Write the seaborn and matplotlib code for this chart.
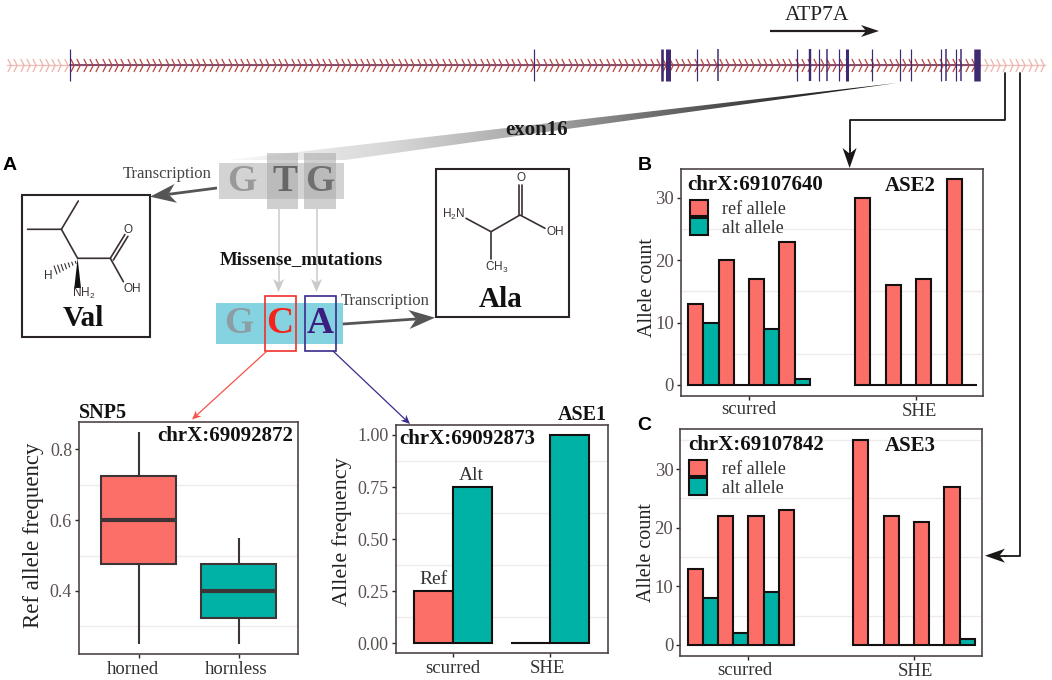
import numpy as np
import pandas as pd
import matplotlib
matplotlib.use("Agg")
from matplotlib import pyplot as plt
from matplotlib.colors import LinearSegmentedColormap
from matplotlib.patches import Patch, Polygon, Rectangle
from matplotlib.path import Path
from matplotlib.transforms import ScaledTranslation
import seaborn as sns

# values
horned = [0.25, 0.475, 0.6, 0.725, 0.85]
hornless = [0.25, 0.325, 0.4, 0.475, 0.55]
ase1_groups = ["scurred", "scurred", "SHE", "SHE"]
ase1_alleles = ["Ref", "Alt", "Ref", "Alt"]
ase1_freq = [0.25, 0.75, 0.0, 1.0]
bar_groups = ["scurred"] * 8 + ["SHE"] * 8
bar_ids = ["r1", "a1", "r2", "a2", "r3", "a3", "r4", "a4"] * 2
ase2_counts = [13, 10, 20, 0, 17, 9, 23, 1, 30, 0, 16, 0, 17, 0, 33, 0]
ase3_counts = [13, 8, 22, 2, 22, 9, 23, np.nan, 35, 0, 22, 0, 21, 0, 27, 1]
exon_x = [70, 534, 661.7, 668, 696.7, 717.7, 797, 810, 818.7, 827, 839, 846.7,
          871.7, 900, 910.7, 940.7, 945.7, 955.7, 961, 977]
exon_w = [1.2, 1.2, 2.6, 5, 1.2, 1.5, 1.2, 2.4, 1.2, 1.5, 1.2, 3, 1.2, 1.2, 1.2, 1.2, 1.5, 1.2, 1.5, 6.5]

RED = "#FB6F68"
TEAL = "#00B2A6"
FRAME = "#4F4545"
INK = "#2A2424"
TICK = "#5A5050"
PX = 0.72  # one pixel in points at dpi 100

sns.set_theme(style="white")
plt.rcParams["font.family"] = ["Liberation Serif", "DejaVu Serif"]
plt.rcParams["mathtext.default"] = "regular"

fig = plt.figure(figsize=(10.52, 6.8), dpi=100, facecolor="white")


def px_axes(l, t, r, b):
    return fig.add_axes([l / 1052, 1 - b / 680, (r - l) / 1052, (b - t) / 680])


def style_panel(ax, xlim, ylim, yticks, minor, labels, ylabel, ysize, tsize, xsize, label_xy, box, shifts):
    ax.set_xlim(*xlim)
    ax.set_ylim(*ylim)
    ax.set_yticks(yticks)
    ax.set_yticklabels(labels)
    ax.set_yticks(minor, minor=True)
    ax.grid(False)
    ax.grid(which="minor", axis="y", color="#EFEBEB", lw=1.0)
    ax.set_axisbelow(True)
    ax.tick_params(which="minor", length=0)
    ax.tick_params(axis="y", which="major", length=3, width=1, color=INK, labelsize=tsize,
                   labelcolor=TICK, pad=2, left=True)
    ax.tick_params(axis="x", which="major", length=3, width=1, color=INK, labelsize=xsize,
                   labelcolor="#333333", pad=2, bottom=True)
    ax.set_xlabel("")
    ax.set_ylabel(ylabel, fontsize=ysize, color="#222222")
    # label centre given in picture pixels, box is (l, t, r, b); +12 because the
    # rotated label is anchored on its right edge
    ax.yaxis.set_label_coords((label_xy[0] + 12 - box[0]) / (box[2] - box[0]),
                              (box[3] - label_xy[1]) / (box[3] - box[1]))
    for lab, (dx, dy) in zip(ax.get_xticklabels(), shifts):
        lab.set_transform(lab.get_transform() + ScaledTranslation(dx / 100, -dy / 100, fig.dpi_scale_trans))
    for s in ax.spines.values():
        s.set_visible(True)
        s.set_color(FRAME)
        s.set_linewidth(1.2)


# SNP5 box plot
df_box = pd.DataFrame({"type": ["horned"] * 5 + ["hornless"] * 5, "freq": horned + hornless})
box_a = (79, 422, 297.5, 654.3)
ax_box = px_axes(*box_a)
sns.boxplot(data=df_box, x="type", y="freq", hue="type", palette=[RED, TEAL], width=0.75,
            linecolor="#3D3535", linewidth=1.5, showcaps=False, fliersize=0, saturation=1,
            legend=False, medianprops={"linewidth": 3.0}, ax=ax_box)
style_panel(ax_box, (-0.595, 1.59), (0.2212, 0.877), [0.4, 0.6, 0.8], [0.3, 0.5, 0.7],
            ["0.4", "0.6", "0.8"], "Ref allele frequency", 16.5, 13, 13.5, (32.5, 535), box_a,
            [(-6, 0), (-2, 0)])

# ASE1 bars
df_ase1 = pd.DataFrame({"group": ase1_groups, "allele": ase1_alleles, "freq": ase1_freq})
box_e = (395.5, 425, 607.7, 653.3)
ax_ase1 = px_axes(*box_e)
sns.barplot(data=df_ase1, x="group", y="freq", hue="allele", palette=[RED, TEAL], width=0.8,
            edgecolor="#141010", linewidth=1.5, saturation=1, errorbar=None, legend=False,
            ax=ax_ase1)
style_panel(ax_ase1, (-0.59, 1.594), (-0.048, 1.048), [0, 0.25, 0.5, 0.75, 1],
            [0.125, 0.375, 0.625, 0.875], ["0.00", "0.25", "0.50", "0.75", "1.00"],
            "Allele frequency", 16, 13, 13.5, (339.6, 531.7), box_e, [(0, 0), (-3, 0)])

# ASE2 / ASE3 bars
bar_palette = {b: (RED if b[0] == "r" else TEAL) for b in bar_ids}
df_ase2 = pd.DataFrame({"group": bar_groups, "bar": bar_ids, "count": ase2_counts})
df_ase3 = pd.DataFrame({"group": bar_groups, "bar": bar_ids, "count": ase3_counts})

box_b = (681, 169.3, 982.7, 395.7)
ax_b = px_axes(*box_b)
sns.barplot(data=df_ase2, x="group", y="count", hue="bar", palette=bar_palette, width=0.73,
            edgecolor="#141010", linewidth=1.5, saturation=1, errorbar=None, legend=False, ax=ax_b)
style_panel(ax_b, (-0.407, 1.399), (-1.72, 34.6), [0, 10, 20, 30], [5, 15, 25],
            ["0", "10", "20", "30"], "Allele count", 14.5, 13.5, 13.5, (645, 288), box_b,
            [(0, -2), (3, 0)])

box_c = (680.3, 429.3, 982, 655.7)
ax_c = px_axes(*box_c)
sns.barplot(data=df_ase3, x="group", y="count", hue="bar", palette=bar_palette, width=0.735,
            edgecolor="#141010", linewidth=1.5, saturation=1, errorbar=None, legend=False, ax=ax_c)
style_panel(ax_c, (-0.412, 1.411), (-1.83, 36.77), [0, 10, 20, 30], [5, 15, 25, 35],
            ["0", "10", "20", "30"], "Allele count", 14.5, 13.5, 13.5, (644, 553), box_c,
            [(-3.5, -1), (1, 0)])

for ax in (ax_b, ax_c):
    handles = [Patch(facecolor=RED, edgecolor="#141010", lw=1.5, label="ref allele"),
               Patch(facecolor=TEAL, edgecolor="#141010", lw=1.5, label="alt allele")]
    ax.legend(handles=handles, loc="upper left", bbox_to_anchor=(0.029, 0.864), frameon=False,
              fontsize=13, handlelength=1, handleheight=1, labelspacing=0, handletextpad=0.8,
              borderpad=0, borderaxespad=0, labelcolor="#333333")

# overlay in picture pixels for the whole drawing around the panels
ov = fig.add_axes([0, 0, 1, 1], zorder=5)
ov.patch.set_alpha(0)
ov.axis("off")


def txt(x, y, s, size, weight="normal", color="#222222", ha="center", va="center", **kw):
    ov.text(x, y, s, fontsize=size, fontweight=weight, color=color, ha=ha, va=va, **kw)


def sans(x, y, s, size=8.5, ha="center"):
    ov.text(x, y, s, fontsize=size, family="Liberation Sans", color="#3A3232", ha=ha, va="center")


def arrow(x0, y0, x1, y1, color, lw, hl, hw, z=6):
    d = np.array([x1 - x0, y1 - y0], float)
    d /= np.hypot(*d)
    n = np.array([-d[1], d[0]])
    tip = np.array([x1, y1], float)
    notch = tip - d * hl * 0.72
    ov.plot([x0, notch[0]], [y0, notch[1]], color=color, lw=lw, solid_capstyle="butt", zorder=z)
    ov.add_patch(Polygon([tip, tip - d * hl + n * hw, notch, tip - d * hl - n * hw],
                         closed=True, fc=color, ec="none", zorder=z))


# gene track
chev = Path([(-0.25, -1), (0.25, 0), (-0.25, 1)], [Path.MOVETO, Path.LINETO, Path.LINETO])
all_x = np.arange(9, 1046, 6.3)
inner = (all_x > 70) & (all_x < 978)
ov.plot([7, 1045], [65, 65], color="#EDBFB8", lw=1.0, zorder=1)
ov.plot([70, 978], [65, 65], color="#6A3560", lw=1.2, zorder=2)
ov.plot(all_x[~inner], [65] * (~inner).sum(), ls="", marker=chev, ms=13 * PX, mfc="none",
        mec="#EFB3AA", mew=0.9, zorder=1)
ov.plot(all_x[inner], [65] * inner.sum(), ls="", marker=chev, ms=13 * PX, mfc="none",
        mec="#B4453F", mew=0.9, zorder=2)
for x, w in zip(exon_x, exon_w):
    ov.plot([x, x], [49, 81], color="#3F2A72", lw=w * PX, solid_capstyle="butt", zorder=3)
txt(817, 15, "ATP7A", 15.5, color="#222222")
arrow(770, 31, 879, 31, "#221E1E", 1.6, 18, 6)

# exon16 wedge
wedge = Polygon([(897, 83), (345, 160), (228, 160)], closed=True, transform=ov.transData,
                fc="none", ec="none")
ov.add_patch(wedge)
greys = LinearSegmentedColormap.from_list("w", ["#F8F8F8", "#D6D6D6", "#9C9C9C", "#4A4A4A", "#0A0A0A"])
im = ov.imshow(np.linspace(0, 1, 256)[None, :], extent=(228, 897, 165, 83), cmap=greys,
               aspect="auto", zorder=0.5)
im.set_clip_path(wedge)
ov.set_xlim(0, 1052)
ov.set_ylim(680, 0)
txt(537, 130, "exon16", 15, "bold", "#1A1A1A", zorder=4)

# codon blocks
ov.add_patch(Rectangle((218.6, 163.3), 125.4, 35.4, fc="#A8A8A8", alpha=0.5, ec="none", zorder=1))
ov.add_patch(Rectangle((266.6, 153), 31.4, 56.3, fc="#A8A8A8", alpha=0.55, ec="none", zorder=1))
ov.add_patch(Rectangle((303.8, 153), 32.2, 56.3, fc="#A8A8A8", alpha=0.55, ec="none", zorder=1))
txt(242, 181.5, "G", 27, "bold", "#999999")
txt(284.5, 181.5, "T", 27, "bold", "#666666")
txt(320, 181.5, "G", 27, "bold", "#707070")
ov.add_patch(Rectangle((216, 303), 126.8, 41, fc="#85D3E0", ec="none", zorder=1))
txt(238.6, 323.5, "G", 27, "bold", "#8C9DA3")
txt(280, 323.5, "C", 27, "bold", "#F5231A")
txt(320, 323.5, "A", 27, "bold", "#3B1F80")
ov.add_patch(Rectangle((264.8, 295.7), 30.7, 55.3, fc="none", ec="#F0302A", lw=1.2, zorder=3))
ov.add_patch(Rectangle((304.5, 295.7), 31.5, 55.3, fc="none", ec="#3B2A8A", lw=1.2, zorder=3))
arrow(278.6, 209, 278.6, 292, "#CACACA", 1.1, 13, 5.5, z=1.5)
arrow(316.5, 209, 316.5, 292, "#CACACA", 1.1, 13, 5.5, z=1.5)
txt(301, 260, "Missense_mutations", 13.6, "bold", "#151515")
txt(167, 174, "Transcription", 12, color="#444444")
txt(385.5, 300.7, "Transcription", 12, color="#444444")
arrow(217, 188, 150, 196.7, "#555555", 2.0, 26, 9.5)
arrow(342.8, 324, 435, 317.7, "#555555", 2.0, 26, 9.5)
arrow(267, 351, 192, 419.5, "#F4524A", 0.9, 9, 4)
arrow(333, 351, 410, 424, "#3B2A8A", 0.9, 9, 4)

# Val
ov.add_patch(Rectangle((21.7, 195), 128.3, 141.7, fc="white", ec="#2A2424", lw=1.5, zorder=1))
bond = dict(color="#3A3030", lw=1.2, solid_capstyle="round", zorder=2)
ov.plot([27.6, 61.4, 78.3], [229.3, 229.3, 201], **bond)
ov.plot([61.4, 77.6, 110.3, 123.4], [229.3, 258.3, 258.3, 281.7], **bond)
ov.plot([110.3, 124.9], [258.3, 234.5], **bond)
ov.plot([113.3, 127.9], [260.1, 236.3], **bond)
ov.add_patch(Polygon([(77.6, 258.3), (74.3, 288), (81, 288)], fc="#111111", ec="none", zorder=2))
for f in np.arange(0.08, 1.0, 0.14):
    cx, cy = 77.6 - 24 * f, 261.7 + 9 * f
    h = 0.8 + 3.5 * f
    ov.plot([cx - 0.35 * h, cx + 0.35 * h], [cy - h, cy + h], color="#3A3030", lw=0.8, zorder=2)
sans(128, 230, "O")
sans(132.4, 289, "OH")
sans(83.8, 293.3, "NH$_2$")
sans(48.3, 276, "H")
txt(83.4, 318, "Val", 21, "bold", "#111111")

# Ala
ov.add_patch(Rectangle((436, 169.3), 133.3, 147.4, fc="white", ec="#2A2424", lw=1.5, zorder=1))
ov.plot([466, 491, 520, 545], [218.3, 231.7, 215, 228.3], **bond)
ov.plot([491, 491], [231.7, 259.3], **bond)
ov.plot([519, 519], [215, 185], **bond)
ov.plot([522.3, 522.3], [215, 185], **bond)
sans(520.7, 178.3, "O")
sans(555, 231.7, "OH")
sans(453.3, 214, "H$_2$N")
sans(496.7, 267.3, "CH$_3$")
txt(501, 299.3, "Ala", 21, "bold", "#111111")

# panel titles and annotations
txt(79, 412.7, "SNP5", 14.5, "bold", "#111111", ha="left")
txt(293, 436, "chrX:69092872", 15, "bold", "#111111", ha="right")
txt(399.5, 439, "chrX:69092873", 15, "bold", "#111111", ha="left")
txt(607, 415, "ASE1", 14.5, "bold", "#111111", ha="right")
txt(433, 579.3, "Ref", 14, color="#333333")
txt(471, 476, "Alt", 14, color="#333333")
txt(687.7, 185, "chrX:69107640", 15, "bold", "#111111", ha="left")
txt(910.7, 186, "ASE2", 15, "bold", "#111111")
txt(688.3, 445, "chrX:69107842", 15, "bold", "#111111", ha="left")
txt(910.7, 446, "ASE3", 15, "bold", "#111111")
for x, y, s in [(10, 165, "A"), (645, 165, "B"), (644, 426, "C")]:
    ov.text(x, y, s, fontsize=14, fontweight="bold", family="Liberation Sans", color="black",
            ha="center", va="center")

# connectors
ov.plot([1004.7, 1004.7, 849.6, 849.6], [73, 120, 120, 150], color="#1A1616", lw=1.3, zorder=3)
arrow(849.6, 148, 849.6, 168, "#1A1616", 1.3, 20, 7)
ov.plot([1020, 1020, 1005], [73, 555.7, 555.7], color="#1A1616", lw=1.3, zorder=3)
arrow(1006, 555.7, 985, 555.7, "#1A1616", 1.3, 20, 7)

fig.savefig("out.png", dpi=100, facecolor="white")
